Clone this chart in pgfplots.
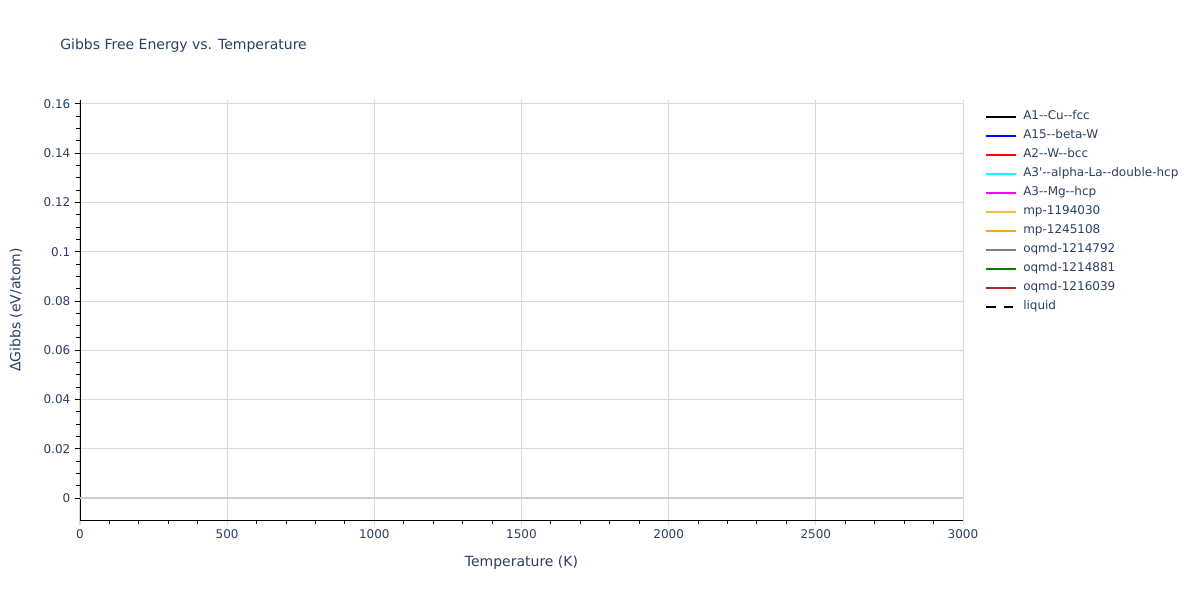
\documentclass[border=0pt]{standalone}
\usepackage{pgfplots}
\pgfplotsset{compat=1.18}
\usepackage{fontspec}
\setmainfont{DejaVu Sans}

\definecolor{txt}{HTML}{2A3F5F}
\definecolor{gridc}{HTML}{D9D9D9}
\definecolor{zeroc}{HTML}{CCCCCC}
\definecolor{ccyan}{HTML}{00FFFF}
\definecolor{cmagenta}{HTML}{FF00FF}
\definecolor{cgold}{HTML}{EBC245}
\definecolor{corange}{HTML}{FFA500}
\definecolor{cgray}{HTML}{808080}
\definecolor{cgreen}{HTML}{008000}
\definecolor{cbrown}{HTML}{A52A2A}

\newcommand{\dd}{-{}-}

\begin{document}
\begin{tikzpicture}[font=\fontsize{9pt}{11pt}\selectfont]
\path[use as bounding box] (0,0) rectangle (900pt,450pt);
\begin{axis}[
    at={(60pt,60pt)}, anchor=south west,
    scale only axis,
    width=662.25pt, height=315pt,
    xmin=0, xmax=3000,
    ymin=-0.0089, ymax=0.1616,
    xtick={0,500,...,3000},
    ytick={0,0.02,...,0.16},
    minor x tick num=4,
    minor y tick num=3,
    tick align=outside,
    major tick length=3.75pt,
    minor tick length=3pt,
    xtick pos=bottom, ytick pos=left,
    axis x line*=bottom, axis y line*=left,
    axis line style={black, line width=0.6pt, -},
    xmajorgrids, ymajorgrids,
    grid style={gridc, line width=0.75pt},
    every major x tick/.style={gridc, line width=0.75pt},
    every minor tick/.style={black, line width=0.75pt},
    every major y tick/.style={black, line width=0.75pt},
    tick label style={txt, font=\fontsize{9pt}{11pt}\selectfont},
    /pgf/number format/assume math mode=true,
    /pgf/number format/1000 sep={},
    y tick label style={/pgf/number format/fixed, /pgf/number format/precision=2},
    xlabel={Temperature (K)},
    ylabel={ΔGibbs (eV/atom)},
    every axis x label/.style={at={(axis description cs:0.5,-0.1024)}, anchor=center, txt, font=\fontsize{10.5pt}{12pt}\selectfont},
    every axis y label/.style={at={(axis description cs:-0.0725,0.5)}, rotate=90, anchor=center, txt, font=\fontsize{10.5pt}{12pt}\selectfont},
    legend cell align=left,
    legend image code/.code={\draw[#1, line width=1.5pt] (0pt,0pt) -- (22.5pt,0pt);},
    legend style={at={(axis description cs:1.0249,0.9738)}, anchor=north west,
        draw=none, fill=none, inner sep=0pt, row sep=5.25pt,
        font=\fontsize{9pt}{11pt}\selectfont, text=txt,
        nodes={inner sep=0pt, text height=6.5pt, text depth=2.5pt},
        /tikz/every odd column/.style={column sep=4.5pt}},
]
% zero line
\addplot[zeroc, line width=1.5pt, forget plot] coordinates {(0,0) (3000,0)};

\addlegendimage{black}
\addlegendentry{A1\dd Cu\dd fcc}
\addlegendimage{blue}
\addlegendentry{A15\dd beta-W}
\addlegendimage{red}
\addlegendentry{A2\dd W\dd bcc}
\addlegendimage{ccyan}
\addlegendentry{A3\textquotesingle\dd alpha-La\dd double-hcp}
\addlegendimage{cmagenta}
\addlegendentry{A3\dd Mg\dd hcp}
\addlegendimage{cgold}
\addlegendentry{mp-1194030}
\addlegendimage{corange}
\addlegendentry{mp-1245108}
\addlegendimage{cgray}
\addlegendentry{oqmd-1214792}
\addlegendimage{cgreen}
\addlegendentry{oqmd-1214881}
\addlegendimage{cbrown}
\addlegendentry{oqmd-1216039}
\addlegendimage{black, dash pattern=on 7pt off 6pt}
\addlegendentry{liquid}
\end{axis}
\node[anchor=west, inner sep=0pt, text=txt, font=\fontsize{10.5pt}{12pt}\selectfont] at (45pt,416pt) {Gibbs Free Energy vs. Temperature};
\end{tikzpicture}
\end{document}
